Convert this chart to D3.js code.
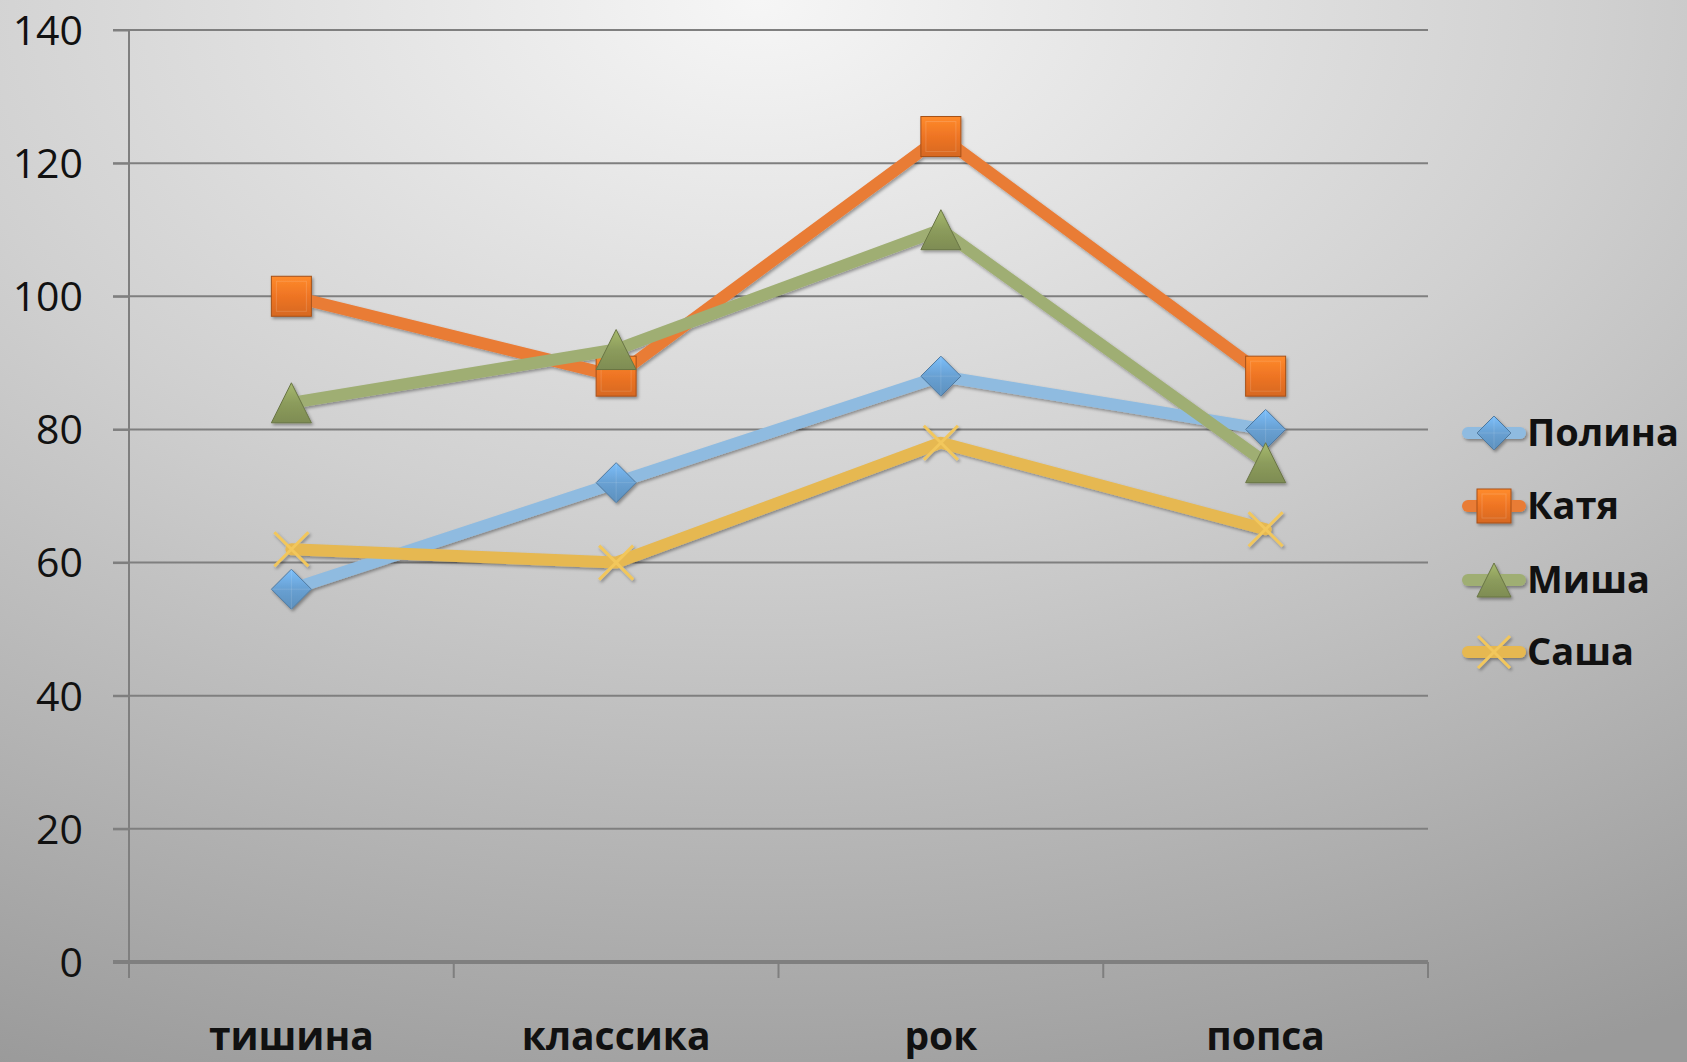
<!DOCTYPE html>
<html>
<head>
<meta charset="utf-8">
<script src="https://cdn.jsdelivr.net/npm/d3@7"></script>
<style>
  html, body { margin: 0; padding: 0; overflow: hidden; }
  svg { display: block; }
</style>
</head>
<body>
<svg id="chart" width="1687" height="1062"></svg>
<script>
// categories and series
const categories = ["тишина", "классика", "рок", "попса"];
const seriesNames = ["Полина", "Катя", "Миша", "Саша"];
const polina = [56, 72, 88, 80];
const katya = [100, 88, 124, 88];
const misha = [84, 92, 110, 75];
const sasha = [62, 60, 78, 65];
const yTicks = [0, 20, 40, 60, 80, 100, 120, 140];

const seriesValues = [polina, katya, misha, sasha];
const lineColors = ["#8fbbe0", "#e97b36", "#9fae73", "#e6b851"];
const markerColors = ["#68a0d2", "#ee7424", "#8c9c5c", "#f2c75c"];
const markerTypes = ["diamond", "square", "triangle", "x"];

const width = 1687, height = 1062;
const margin = { left: 129, right: 1428, top: 30, bottom: 962 };

const svg = d3.select("#chart");
const defs = svg.append("defs");

// background: light at top centre, darker toward the bottom and sides
const bg = defs.append("radialGradient")
    .attr("id", "bg")
    .attr("cx", "0.45").attr("cy", "0.0").attr("r", "1.1")
    .attr("gradientUnits", "objectBoundingBox");
bg.append("stop").attr("offset", "0").attr("stop-color", "#f6f6f6");
bg.append("stop").attr("offset", "0.45").attr("stop-color", "#d0d0d0");
bg.append("stop").attr("offset", "1").attr("stop-color", "#9a9a9a");

svg.append("rect")
    .attr("width", width).attr("height", height)
    .attr("fill", "url(#bg)");

// soft shadow for lines and markers
const shadow = defs.append("filter").attr("id", "shadow")
    .attr("x", "-20%").attr("y", "-20%").attr("width", "140%").attr("height", "140%");
shadow.append("feDropShadow")
    .attr("dx", 1.5).attr("dy", 2).attr("stdDeviation", 1.5)
    .attr("flood-color", "#000").attr("flood-opacity", 0.35);

// bevel-ish gradients for markers
markerColors.forEach((c, i) => {
    const g = defs.append("linearGradient")
        .attr("id", "mk" + i)
        .attr("x1", "0").attr("y1", "0").attr("x2", "0").attr("y2", "1");
    g.append("stop").attr("offset", "0").attr("stop-color", d3.color(c).brighter(0.5));
    g.append("stop").attr("offset", "0.5").attr("stop-color", c);
    g.append("stop").attr("offset", "1").attr("stop-color", d3.color(c).darker(0.3));
});

// scales
const xBand = d3.scaleBand()
    .domain(categories)
    .range([margin.left, margin.right]);

const yscale = d3.scaleLinear()
    .domain([0, 140])
    .range([margin.bottom, margin.top]);

const xPos = d => xBand(d) + xBand.bandwidth() / 2;

// gridlines
svg.append("g")
    .selectAll("line")
    .data(yTicks.filter(t => t > 0))
    .enter()
    .append("line")
    .attr("x1", margin.left - 16)
    .attr("x2", margin.right)
    .attr("y1", d => yscale(d))
    .attr("y2", d => yscale(d))
    .attr("stroke", "#7f7f7f")
    .attr("stroke-width", 2);

// y axis
const yAxis = d3.axisLeft(yscale)
    .tickValues(yTicks)
    .tickSize(16)
    .tickPadding(30);

const yg = svg.append("g")
    .attr("transform", `translate(${margin.left},0)`)
    .call(yAxis);
yg.select(".domain")
    .attr("d", `M0,${margin.top}V${margin.bottom + 16}`)
    .attr("stroke", "#7f7f7f").attr("stroke-width", 2);
yg.selectAll(".tick line").attr("stroke", "#7f7f7f").attr("stroke-width", 2);
yg.selectAll(".tick text")
    .attr("font-family", "'Open Sans', sans-serif")
    .attr("font-size", 41)
    .attr("fill", "#111")
    .attr("dy", "0.35em");

// x axis
const xAxis = d3.axisBottom(xBand)
    .tickSize(0)
    .tickPadding(60);

const xg = svg.append("g")
    .attr("transform", `translate(0,${margin.bottom})`)
    .call(xAxis);
xg.select(".domain")
    .attr("d", `M${margin.left - 16},0H${margin.right}`)
    .attr("stroke", "#7f7f7f").attr("stroke-width", 4);
xg.selectAll(".tick text")
    .attr("font-family", "'Open Sans', sans-serif")
    .attr("font-weight", "bold")
    .attr("font-size", 39)
    .attr("fill", "#111");

// category boundary ticks
const bounds = categories.map(c => xBand(c)).concat([margin.right]);
xg.append("g")
    .selectAll("line")
    .data(bounds)
    .enter()
    .append("line")
    .attr("x1", d => d).attr("x2", d => d)
    .attr("y1", 0).attr("y2", 16)
    .attr("stroke", "#7f7f7f").attr("stroke-width", 2);

// marker drawing
function drawMarker(g, type, i, size) {
    const h = size / 2;
    if (type === "diamond") {
        g.append("path").attr("d", `M0,${-h}L${h},0L0,${h}L${-h},0Z`)
            .attr("fill", `url(#mk${i})`).attr("stroke", d3.color(markerColors[i]).darker(0.8)).attr("stroke-width", 1);
        g.append("path").attr("d", `M${-h},0L${h},0M0,${-h}L0,${h}`)
            .attr("stroke", "#ffffff").attr("stroke-opacity", 0.12).attr("stroke-width", 1);
    } else if (type === "square") {
        g.append("rect").attr("x", -h).attr("y", -h).attr("width", size).attr("height", size)
            .attr("fill", `url(#mk${i})`).attr("stroke", d3.color(markerColors[i]).darker(1)).attr("stroke-width", 1);
        g.append("rect").attr("x", -h + 5).attr("y", -h + 5).attr("width", size - 10).attr("height", size - 10)
            .attr("fill", "none").attr("stroke", "#ffffff").attr("stroke-opacity", 0.15).attr("stroke-width", 1);
    } else if (type === "triangle") {
        g.append("path").attr("d", `M0,${-h}L${h},${h}L${-h},${h}Z`)
            .attr("fill", `url(#mk${i})`).attr("stroke", d3.color(markerColors[i]).darker(0.8)).attr("stroke-width", 1);
    } else {
        g.append("path").attr("d", `M${-h},${-h}L${h},${h}M${h},${-h}L${-h},${h}`)
            .attr("stroke", markerColors[i]).attr("stroke-width", 3);
    }
}

// lines
const lineGenerator = d3.line()
    .x((d, j) => xPos(categories[j]))
    .y(d => yscale(d));

const linesG = svg.append("g").attr("filter", "url(#shadow)");
seriesValues.forEach((vals, i) => {
    const g = linesG.append("g");
    g.append("path")
        .datum(vals)
        .attr("d", lineGenerator)
        .attr("fill", "none")
        .attr("stroke", lineColors[i])
        .attr("stroke-width", 12)
        .attr("stroke-linejoin", "round")
        .attr("stroke-linecap", "round");

    vals.forEach((v, j) => {
        const m = g.append("g")
            .attr("transform", `translate(${xPos(categories[j])},${yscale(v)})`);
        drawMarker(m, markerTypes[i], i, markerTypes[i] === "x" ? 34 : 40);
    });
});

// legend
const legend = svg.append("g");
const legendY = [433, 506, 580, 652];
seriesNames.forEach((name, i) => {
    const row = legend.append("g").attr("transform", `translate(0,${legendY[i]})`);
    const sym = row.append("g").attr("filter", "url(#shadow)");
    sym.append("line")
        .attr("x1", 1468).attr("x2", 1520)
        .attr("stroke", lineColors[i]).attr("stroke-width", 12)
        .attr("stroke-linecap", "round");
    const m = sym.append("g").attr("transform", "translate(1494,0)");
    drawMarker(m, markerTypes[i], i, markerTypes[i] === "x" ? 32 : 34);
    row.append("text")
        .attr("x", 1527).attr("y", 0)
        .attr("dy", "0.35em")
        .attr("font-family", "'Open Sans', sans-serif")
        .attr("font-weight", "bold")
        .attr("font-size", 38)
        .attr("fill", "#111")
        .text(name);
});
</script>
</body>
</html>
